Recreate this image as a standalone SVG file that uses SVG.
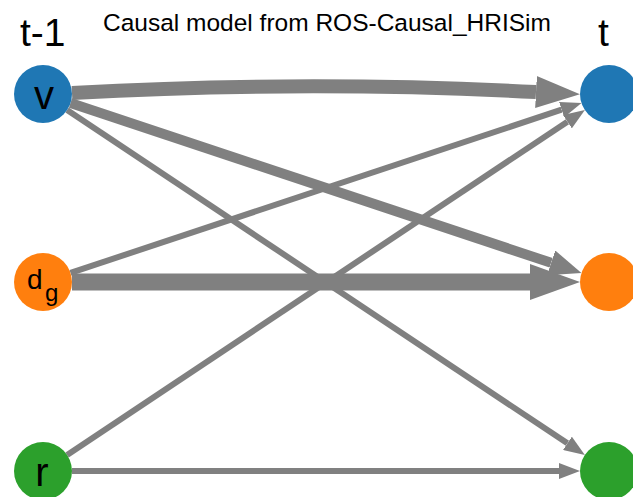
<svg xmlns="http://www.w3.org/2000/svg" width="633" height="497" viewBox="0 0 633 497">
<style>
text{font-family:"Liberation Sans",Arial,sans-serif;fill:#000}
.e{fill:none;stroke:#808080;stroke-linecap:butt}
.s{stroke-width:6;marker-end:url(#hs)}
.m{stroke-width:10;marker-end:url(#hm)}
.l{stroke-width:14;marker-end:url(#hl)}
.xl{stroke-width:17;marker-end:url(#hxl)}
.blue{fill:#1f77b4}.orange{fill:#ff7f0e}.green{fill:#2ca02c}
</style>
<defs>
<marker id="hs" markerUnits="userSpaceOnUse" viewBox="0 -8 21 16" markerWidth="21" markerHeight="16" refX="0" refY="0" orient="auto"><path d="M0,-8L21,0L0,8z" fill="#808080"/></marker>
<marker id="hm" markerUnits="userSpaceOnUse" viewBox="0 -13 32 26" markerWidth="32" markerHeight="26" refX="0" refY="0" orient="auto"><path d="M0,-13L32,0L0,13z" fill="#808080"/></marker>
<marker id="hl" markerUnits="userSpaceOnUse" viewBox="0 -16 44 32" markerWidth="44" markerHeight="32" refX="0" refY="0" orient="auto"><path d="M0,-16L44,0L0,16z" fill="#808080"/></marker>
<marker id="hxl" markerUnits="userSpaceOnUse" viewBox="0 -18 50 36" markerWidth="50" markerHeight="36" refX="0" refY="0" orient="auto"><path d="M0,-18L50,0L0,18z" fill="#808080"/></marker>
</defs>
<text x="103" y="31" font-size="24.5">Causal model from ROS-Causal_HRISim</text>
<text x="20" y="46" font-size="39">t-1</text>
<text x="598" y="46" font-size="39">t</text>
<g id="edges">
<path class="e l" d="M72,93 Q305,80 536,92"/>
<path class="e m" d="M70.5,103.1 L551.1,262.8"/>
<path class="e s" d="M67.1,110.1 L567.4,443.3"/>
<path class="e s" d="M70.5,272.9 L561.6,109.7"/>
<path class="e xl" d="M72,282 L530,282"/>
<path class="e s" d="M67.1,454.9 L567.4,121.7"/>
<path class="e s" d="M72,471 L559,471"/>
</g>
<g id="v_tm1"><circle class="blue" cx="43" cy="94" r="29"/><text x="44" y="109" font-size="40" text-anchor="middle">v</text></g>
<g id="dg_tm1"><circle class="orange" cx="43" cy="282" r="29"/><text x="27" y="289" font-size="28">d</text><text x="45" y="301" font-size="24">g</text></g>
<g id="r_tm1"><circle class="green" cx="43" cy="471" r="29"/><text x="42" y="486" font-size="40" text-anchor="middle">r</text></g>
<g id="v_t"><circle class="blue" cx="609" cy="94" r="29"/></g>
<g id="dg_t"><circle class="orange" cx="609" cy="282" r="29"/></g>
<g id="r_t"><circle class="green" cx="609" cy="471" r="29"/></g>
</svg>
